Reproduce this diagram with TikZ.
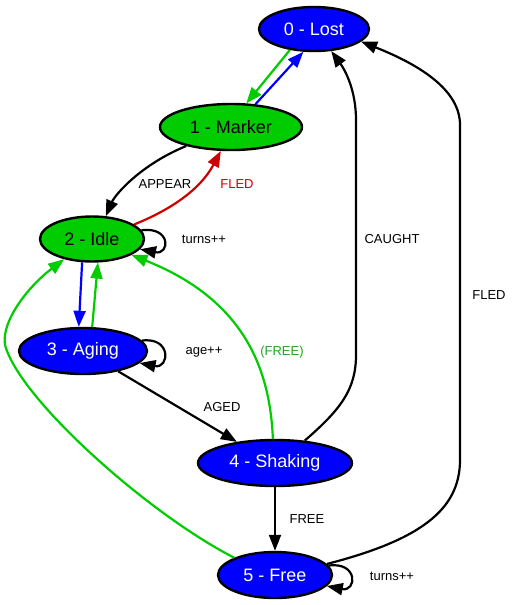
\documentclass[tikz,border=0pt]{standalone}
\usepackage{fontspec}
\setmainfont{Liberation Sans}
\usetikzlibrary{arrows.meta,shapes.geometric}
\definecolor{nblue}{RGB}{0,0,255}
\definecolor{ngreen}{RGB}{0,204,0}
\definecolor{nred}{RGB}{204,0,0}
\definecolor{lgreen}{RGB}{40,160,40}
\newcommand{\lbl}[1]{\fontsize{13}{15}\selectfont #1}
\tikzset{
  state/.style={ellipse,draw=black,line width=2.4pt,inner sep=0pt,
    font=\fontsize{18}{20}\selectfont},
  bstate/.style={state,fill=nblue,text=white},
  gstate/.style={state,fill=ngreen,text=black},
  edge/.style={line width=2.2pt,-{Triangle[length=16pt,width=12pt]}},
}
\begin{document}
\begin{tikzpicture}[x=1pt,y=-1pt,color=black]
\useasboundingbox (0,0) rectangle (515,605);

\node[bstate,minimum width=110pt,minimum height=44pt] (S0) at (314,29) {0 - Lost};
\node[gstate,minimum width=142pt,minimum height=46pt] (S1) at (231,127) {1 - Marker};
\node[gstate,minimum width=104pt,minimum height=45pt] (S2) at (92,239) {2 - Idle};
\node[bstate,minimum width=128pt,minimum height=46pt] (S3) at (83,351) {3 - Aging};
\node[bstate,minimum width=154pt,minimum height=46pt] (S4) at (275,463) {4 - Shaking};
\node[bstate,minimum width=114pt,minimum height=46pt] (S5) at (275,575) {5 - Free};

% lost <-> marker
\draw[edge,ngreen] (S0.-139) -- (S1.57);
\draw[edge,nblue] (S1.43) -- (S0.-115);

% marker <-> idle
\draw[edge] (S1.-157) .. controls (140,165) and (115,195) .. (S2.59);
\draw[edge,nred] (S2.19) .. controls (170,210) and (200,190) .. (S1.-113);
\node (appear) at (165,184) {\lbl{APPEAR}};
\node[text=nred] (fled1) at (237,184) {\lbl{FLED}};

% idle <-> aging
\draw[edge,nblue] (S2.-113) -- (S3.100);
\draw[edge,ngreen] (S3.69) -- (S2.-76);

% self loops
\foreach \n in {2,3,5}
{
\draw[edge] (S\n.10) .. controls +(30,-4) and +(30,6) .. (S\n.-12);
}
\node (turns1) at (204,239) {\lbl{turns++}};
\node (age) at (204,352) {\lbl{age++}};
\node (turns2) at (392,576) {\lbl{turns++}};

% aging -> shaking
\draw[edge] (S3.-30) -- (S4.151);
\node (aged) at (222,407) {\lbl{AGED}};

% shaking -> idle
\draw[edge,ngreen] (S4.95) .. controls (270,370) and (245,300) .. (S2.-22);
\node[text=lgreen] (free1) at (282,352) {\lbl{(FREE)}};

% shaking -> lost
\draw[edge] (S4.37) .. controls (340,410) and (356,390) .. (356,355)
  -- (356,120) .. controls (356,90) and (345,70) .. (S0.-52);
\node (caught) at (392,239) {\lbl{CAUGHT}};

% shaking -> free
\draw[edge] (S4) -- (S5);
\node (free2) at (307,519) {\lbl{FREE}};

% free -> lost
\draw[edge] (S5.12) .. controls (420,540) and (460,510) .. (460,460)
  -- (460,125) .. controls (460,90) and (420,65) .. (S0.-15);
\node (fled2) at (489,295) {\lbl{FLED}};

% free -> idle
\draw[edge,ngreen] (S5.157) .. controls (150,515) and (20,400) .. (5,345)
  .. controls (1,320) and (30,285) .. (S2.-144);

\end{tikzpicture}
\end{document}
